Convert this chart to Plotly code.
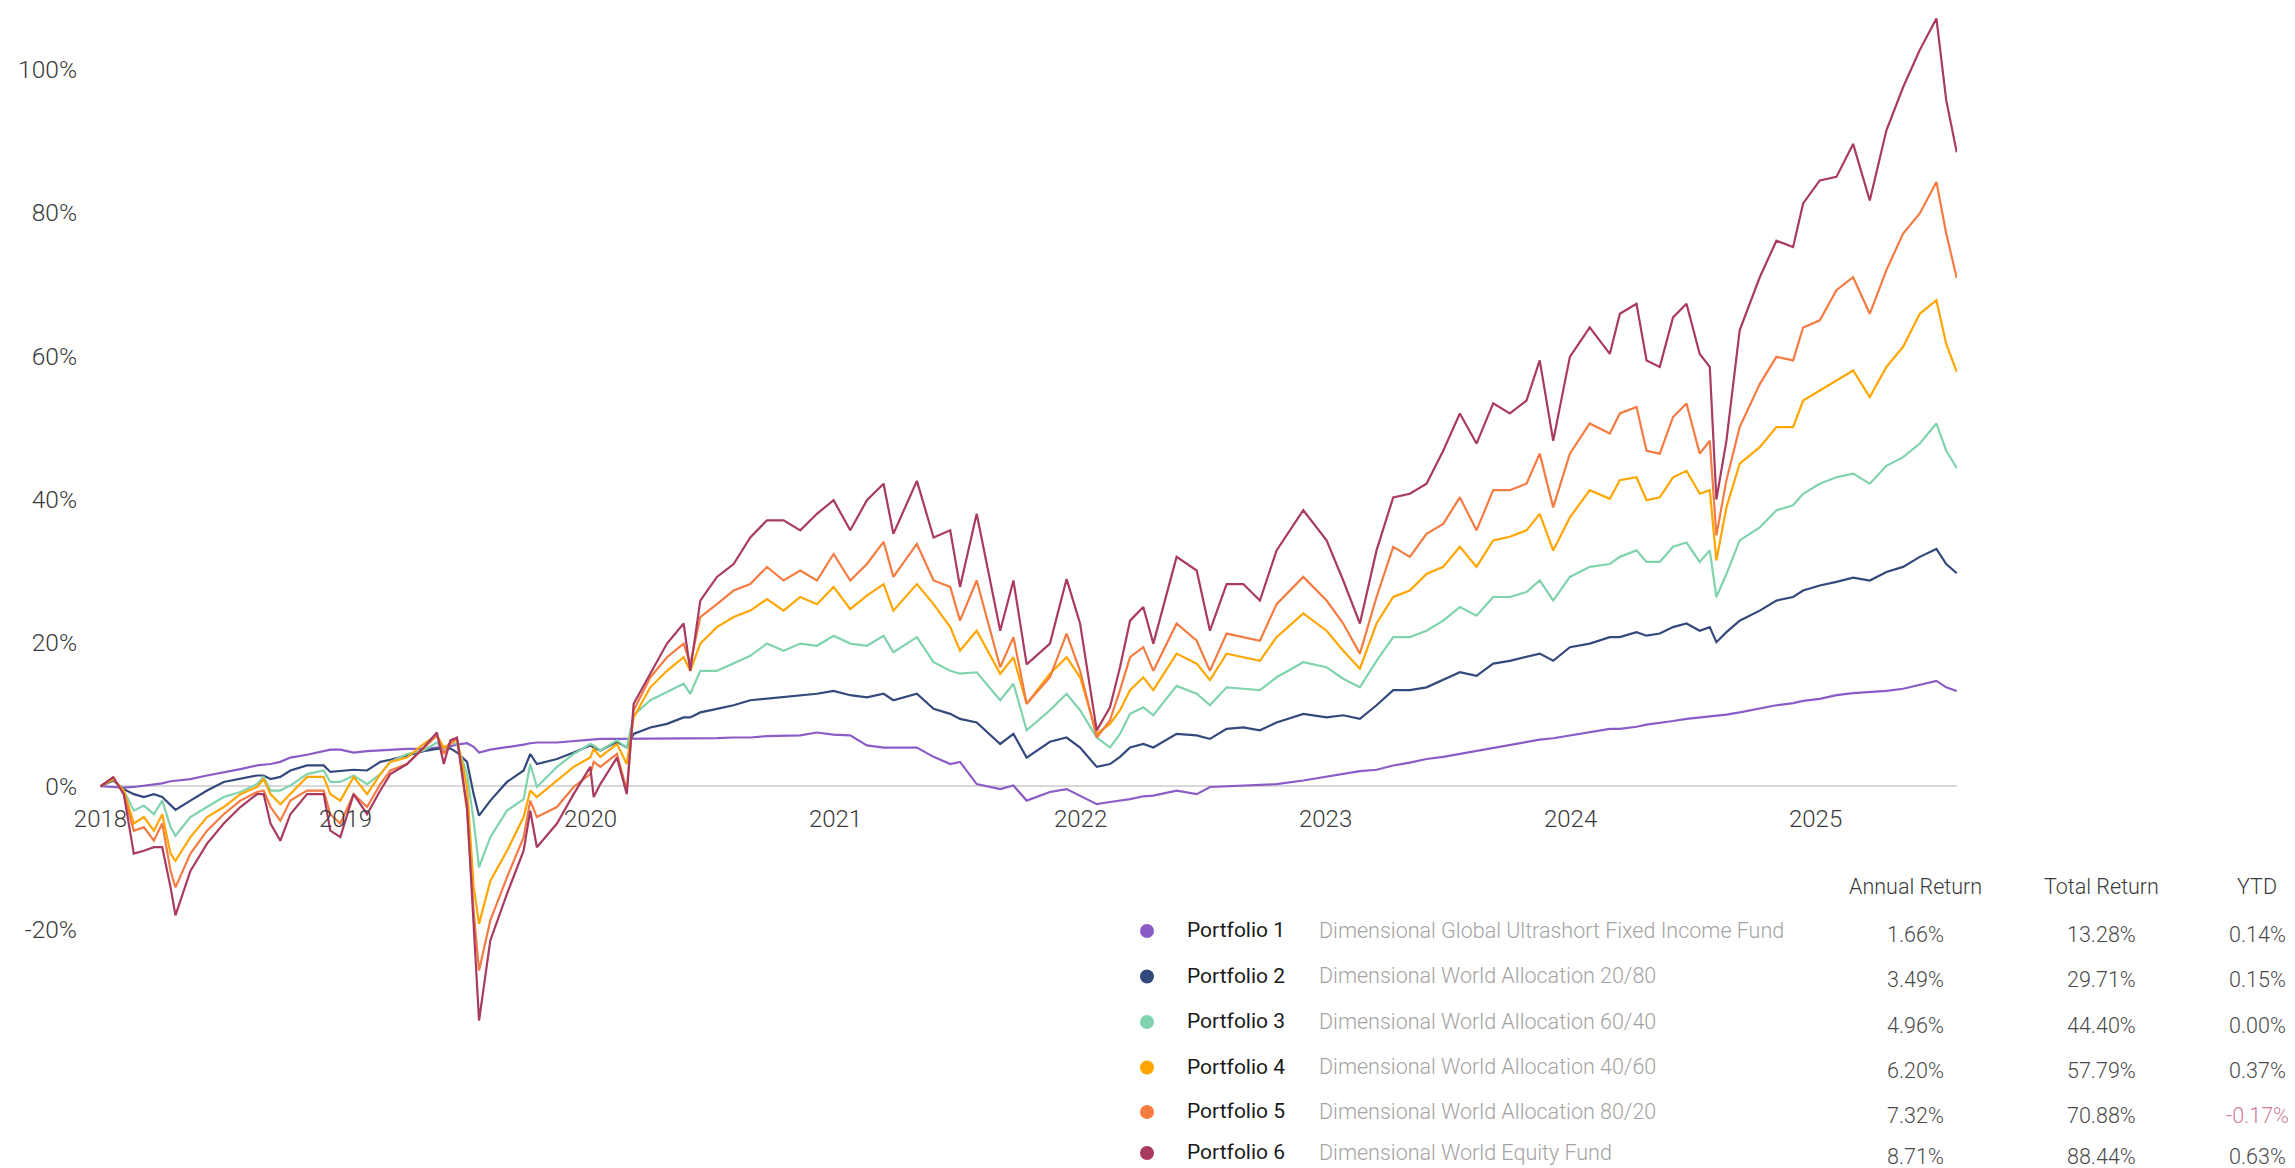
import plotly.graph_objects as go

# ---------------- data (decimal-year positions on the drawn time axis, % cumulative return) ----------------
dates = [
    2018.000, 2018.052, 2018.095, 2018.136, 2018.177, 2018.218, 2018.252, 2018.286, 2018.306, 2018.367,
    2018.435, 2018.503, 2018.571, 2018.639, 2018.666, 2018.694, 2018.734, 2018.775, 2018.843, 2018.911,
    2018.938, 2018.979, 2019.033, 2019.088, 2019.142, 2019.183, 2019.251, 2019.319, 2019.373, 2019.401,
    2019.428, 2019.455, 2019.496, 2019.523, 2019.545, 2019.591, 2019.659, 2019.727, 2019.754, 2019.781,
    2019.863, 2019.931, 2019.999, 2020.013,
    2020.040, 2020.108, 2020.148, 2020.176, 2020.244, 2020.312, 2020.380, 2020.407, 2020.448, 2020.516,
    2020.584, 2020.652, 2020.720, 2020.788, 2020.856, 2020.924, 2020.992, 2021.060, 2021.128, 2021.196,
    2021.236, 2021.332, 2021.400, 2021.468, 2021.508, 2021.576, 2021.672, 2021.726, 2021.780, 2021.875,
    2021.943, 2021.998, 2022.066,
    2022.120, 2022.161, 2022.202, 2022.256, 2022.297, 2022.392, 2022.474, 2022.528, 2022.596, 2022.664,
    2022.732, 2022.800, 2022.909, 2023.004, 2023.072, 2023.140, 2023.208, 2023.276, 2023.344, 2023.412,
    2023.480, 2023.548, 2023.616, 2023.684, 2023.752, 2023.820, 2023.874, 2023.929, 2023.997, 2024.078,
    2024.160,
    2024.201, 2024.269, 2024.310, 2024.364, 2024.418, 2024.473, 2024.527, 2024.568, 2024.595, 2024.636,
    2024.690, 2024.772, 2024.840, 2024.908, 2024.949, 2025.017, 2025.085, 2025.153, 2025.221, 2025.289,
    2025.357, 2025.425, 2025.493, 2025.533, 2025.576,
]

portfolio_1 = [
    0, -0.1, -0.2, -0.1, 0.1, 0.2, 0.4, 0.7, 0.8, 1.0, 1.5, 1.9, 2.4, 2.9, 3.0, 3.1, 3.4, 4.0, 4.4, 4.9,
    5.1, 5.1, 4.7, 4.9, 5.0, 5.1, 5.2, 5.2, 5.4, 5.4, 5.6, 5.8, 6.0, 5.5, 4.7, 5.1, 5.4, 5.8, 6.0, 6.1,
    6.1, 6.3, 6.5, 6.5,
    6.6, 6.6, 6.6, 6.6, 6.7, 6.6, 6.6, 6.6, 6.6, 6.7, 6.8, 6.8, 7.0, 7.1, 7.1, 7.5, 7.2, 7.1, 5.7, 5.4,
    5.4, 5.4, 4.1, 3.1, 3.4, 0.3, -0.4, 0.1, -2.0, -0.8, -0.4, -1.3, -2.5,
    -2.2, -2.0, -1.8, -1.4, -1.3, -0.6, -1.1, -0.1, 0.0, 0.0, 0.2, 0.3, 0.8, 1.3, 1.7, 2.1, 2.3, 2.9, 3.3, 3.8,
    4.1, 4.5, 5.0, 5.4, 5.8, 6.1, 6.5, 6.7, 7.1, 7.5, 8.0,
    8.0, 8.3, 8.6, 8.8, 9.1, 9.4, 9.6, 9.8, 9.8, 10.0, 10.3, 10.9, 11.3, 11.6, 11.9, 12.2, 12.7, 13.0, 13.1, 13.3,
    13.6, 14.1, 14.7, 13.8, 13.28,
]

portfolio_2 = [
    0, 0.8, -0.4, -1.1, -1.5, -1.1, -1.5, -2.7, -3.3, -2.0, -0.6, 0.6, 1.0, 1.5, 1.5, 1.0, 1.3, 2.2, 2.9, 2.9,
    2.0, 2.1, 2.3, 2.2, 3.4, 3.7, 4.3, 4.9, 5.2, 5.2, 5.3, 4.7, 3.4, -1.1, -4.1, -2.0, 0.6, 2.2, 4.5, 3.1,
    3.8, 4.7, 5.7, 5.4,
    5.0, 6.2, 5.4, 7.3, 8.2, 8.7, 9.6, 9.6, 10.3, 10.8, 11.3, 12.0, 12.2, 12.4, 12.7, 12.9, 13.3, 12.7, 12.4, 12.9,
    12.0, 12.9, 10.8, 10.1, 9.4, 8.9, 5.9, 7.3, 4.0, 6.2, 6.8, 5.4, 2.7,
    3.1, 4.1, 5.4, 5.9, 5.4, 7.3, 7.1, 6.6, 8.0, 8.2, 7.8, 8.9, 10.1, 9.6, 9.9, 9.4, 11.3, 13.4, 13.4, 13.8,
    14.8, 15.9, 15.4, 17.1, 17.5, 18.0, 18.5, 17.5, 19.4, 19.9, 20.8,
    20.8, 21.5, 21.0, 21.3, 22.2, 22.7, 21.7, 22.2, 20.1, 21.5, 23.1, 24.5, 25.9, 26.4, 27.3, 28.0, 28.5, 29.1, 28.7, 29.9,
    30.6, 32.0, 33.1, 31.0, 29.71,
]

portfolio_3 = [
    0, 1.0, -0.6, -3.4, -2.7, -3.9, -2.0, -5.7, -6.9, -4.3, -2.9, -1.5, -0.8, 0.3, 1.3, -0.6, -0.6, 0.1, 1.7, 2.2,
    0.6, 0.6, 1.5, 0.3, 1.7, 3.4, 4.5, 5.0, 6.1, 5.0, 6.1, 5.9, 1.7, -4.8, -11.3, -7.1, -3.4, -1.8, 3.1, -0.1,
    2.7, 4.5, 5.9, 5.7,
    5.0, 6.4, 5.4, 9.9, 12.0, 13.1, 14.3, 12.9, 16.1, 16.1, 17.1, 18.2, 19.9, 18.9, 19.9, 19.6, 21.0, 19.9, 19.6, 21.0,
    18.7, 20.8, 17.3, 16.1, 15.7, 15.9, 12.0, 14.3, 7.8, 10.6, 12.9, 10.6, 6.8,
    5.4, 7.3, 10.1, 11.0, 9.9, 14.0, 12.9, 11.3, 13.8, 13.6, 13.4, 15.2, 17.3, 16.6, 15.0, 13.8, 17.5, 20.8, 20.8, 21.7,
    23.1, 25.0, 23.8, 26.4, 26.4, 27.1, 28.7, 25.9, 29.2, 30.6, 31.0,
    32.0, 32.9, 31.3, 31.3, 33.4, 34.0, 31.3, 32.9, 26.4, 29.6, 34.3, 36.1, 38.5, 39.2, 40.8, 42.2, 43.1, 43.6, 42.2, 44.7,
    45.9, 47.8, 50.6, 46.8, 44.40,
]

portfolio_4 = [
    0, 1.0, -0.6, -5.2, -4.3, -6.2, -3.9, -9.4, -10.4, -7.1, -4.3, -2.9, -1.1, -0.1, 1.0, -1.1, -2.5, -1.1, 1.3, 1.3,
    -1.1, -2.0, 1.3, -1.1, 1.7, 3.4, 4.0, 5.9, 7.1, 5.4, 5.9, 6.6, -0.1, -14.0, -19.2, -13.2, -9.0, -4.3, -0.6, -1.5,
    0.8, 2.7, 4.0, 5.2,
    4.1, 5.9, 3.1, 9.6, 13.8, 16.1, 18.0, 16.1, 19.9, 22.2, 23.6, 24.5, 26.1, 24.5, 26.4, 25.4, 27.8, 24.7, 26.6, 28.2,
    24.5, 28.2, 25.4, 22.2, 18.9, 21.7, 15.7, 18.0, 11.5, 15.7, 18.0, 15.2, 7.3,
    8.7, 10.6, 13.4, 15.2, 13.4, 18.5, 17.1, 14.8, 18.5, 18.0, 17.5, 20.8, 24.1, 21.7, 18.9, 16.4, 22.7, 26.4, 27.3, 29.6,
    30.6, 33.4, 30.6, 34.3, 34.8, 35.7, 38.0, 32.9, 37.5, 41.3, 40.1,
    42.7, 43.1, 39.9, 40.3, 43.1, 44.0, 40.8, 41.3, 31.5, 38.9, 45.0, 47.3, 50.1, 50.1, 53.8, 55.2, 56.6, 58.0, 54.3, 58.5,
    61.3, 65.9, 67.8, 61.7, 57.79,
]

portfolio_5 = [
    0, 1.26, -1.1, -6.2, -5.7, -7.6, -5.2, -11.8, -14.1, -9.4, -6.2, -3.9, -2.0, -0.8, -0.6, -2.9, -4.8, -2.0, -0.6, -0.6,
    -3.9, -5.2, -1.1, -2.9, 0.3, 2.2, 3.1, 5.4, 7.1, 4.5, 6.1, 6.6, -3.4, -17.5, -25.7, -18.7, -12.7, -7.1, -2.0, -4.3,
    -2.9, -0.1, 1.7, 3.4,
    2.7, 4.5, -0.6, 10.6, 15.2, 18.0, 19.9, 17.1, 23.6, 25.4, 27.3, 28.2, 30.6, 28.7, 30.1, 28.7, 32.4, 28.7, 31.0, 34.1,
    29.2, 33.8, 28.7, 27.8, 23.1, 28.7, 16.6, 20.8, 11.5, 15.2, 21.3, 16.1, 6.8,
    9.2, 13.4, 18.0, 19.4, 16.1, 22.7, 20.3, 16.1, 21.3, 20.8, 20.3, 25.4, 29.2, 25.9, 22.7, 18.5, 26.4, 33.4, 32.0, 35.2,
    36.6, 40.3, 35.7, 41.3, 41.3, 42.2, 46.4, 38.9, 46.4, 50.6, 49.2,
    52.0, 52.9, 46.8, 46.4, 51.5, 53.4, 46.4, 48.2, 35.0, 42.7, 50.1, 56.1, 59.9, 59.4, 64.0, 65.0, 69.2, 71.0, 65.9, 72.0,
    77.1, 79.9, 84.3, 77.1, 70.88,
]

portfolio_6 = [
    0, 1.26, -1.1, -9.4, -9.0, -8.5, -8.5, -14.1, -18.0, -11.8, -8.0, -5.2, -2.9, -1.1, -1.1, -5.2, -7.6, -3.9, -1.1, -1.1,
    -6.2, -7.1, -1.1, -3.9, -0.6, 1.7, 3.1, 5.4, 7.5, 3.1, 6.4, 6.8, -2.9, -19.7, -32.7, -21.5, -15.0, -9.0, -3.4, -8.5,
    -5.2, -1.1, 2.7, -1.5,
    0.3, 4.0, -1.1, 11.5, 15.7, 19.9, 22.7, 16.1, 25.9, 29.2, 31.0, 34.7, 37.1, 37.1, 35.7, 38.0, 39.9, 35.7, 39.9, 42.2,
    35.2, 42.6, 34.7, 35.7, 27.8, 38.0, 21.7, 28.7, 17.0, 19.9, 28.9, 22.7, 7.8,
    11.0, 16.6, 23.1, 25.0, 19.9, 32.0, 30.1, 21.7, 28.2, 28.2, 25.9, 32.9, 38.5, 34.3, 28.7, 22.7, 32.9, 40.3, 40.8, 42.2,
    46.8, 52.0, 47.8, 53.4, 52.0, 53.8, 59.4, 48.2, 59.9, 64.0, 60.3,
    65.9, 67.3, 59.4, 58.5, 65.4, 67.3, 60.3, 58.5, 40.0, 48.2, 63.6, 71.0, 76.1, 75.2, 81.3, 84.5, 85.0, 89.6, 81.7, 91.5,
    97.5, 102.7, 107.1, 95.7, 88.44,
]

portfolio_names = ["Portfolio 1", "Portfolio 2", "Portfolio 3", "Portfolio 4", "Portfolio 5", "Portfolio 6"]
fund_names = [
    "Dimensional Global Ultrashort Fixed Income Fund",
    "Dimensional World Allocation 20/80",
    "Dimensional World Allocation 60/40",
    "Dimensional World Allocation 40/60",
    "Dimensional World Allocation 80/20",
    "Dimensional World Equity Fund",
]
annual_return = ["1.66%", "3.49%", "4.96%", "6.20%", "7.32%", "8.71%"]
total_return = ["13.28%", "29.71%", "44.40%", "57.79%", "70.88%", "88.44%"]
ytd_return = ["0.14%", "0.15%", "0.00%", "0.37%", "-0.17%", "0.63%"]

year_ticks = [2018, 2019, 2020, 2021, 2022, 2023, 2024, 2025]
year_labels = ["2018", "2019", "2020", "2021", "2022", "2023", "2024", "2025"]
pct_ticks = [-20, 0, 20, 40, 60, 80, 100]
pct_labels = ["-20%", "0%", "20%", "40%", "60%", "80%", "100%"]

# ---------------- styles ----------------
colors = ["#8a5cc5", "#34497b", "#80d3ad", "#ffa602", "#f47b42", "#a93a60"]
series = [portfolio_1, portfolio_2, portfolio_3, portfolio_4, portfolio_5, portfolio_6]

W, H = 2295, 1168
L, R, T, B = 100, 338, 12, 138
PW, PH = W - L - R, H - T - B


def px(x):
    return (x - L) / PW


def py(y):
    return (H - B - y) / PH


FONT = "Roboto, 'Open Sans', sans-serif"

fig = go.Figure()
for vals, name, col in zip(series, portfolio_names, colors):
    fig.add_trace(go.Scatter(
        x=dates, y=vals, mode="lines", name=name, showlegend=False,
        line=dict(color=col, width=2.2),
        hovertemplate=name + ": %{y:.2f}%<extra></extra>",
    ))

annotations = []
shapes = []

header_y = 886
for text, cx in zip(["Annual Return", "Total Return", "YTD"], [1915, 2101, 2257]):
    annotations.append(dict(
        x=px(cx), y=py(header_y), xref="paper", yref="paper", text=text, showarrow=False,
        xanchor="center", yanchor="middle",
        font=dict(family=FONT, size=21.5, color="#3a3a3a", weight=300),
    ))

row_ys = [931, 976.5, 1022, 1067.5, 1112, 1153]
for i, ry in enumerate(row_ys):
    shapes.append(dict(
        type="circle", xref="paper", yref="paper", xsizemode="pixel", ysizemode="pixel",
        xanchor=px(1147), yanchor=py(ry), x0=-7, x1=7, y0=-7, y1=7,
        fillcolor=colors[i], line=dict(width=0),
    ))
    annotations.append(dict(
        x=px(1185), y=py(ry - 1), xref="paper", yref="paper", text=portfolio_names[i], showarrow=False,
        xanchor="left", yanchor="middle", font=dict(family=FONT, size=21, color="#1a1a1a", weight=400),
    ))
    annotations.append(dict(
        x=px(1317), y=py(ry - 1), xref="paper", yref="paper", text=fund_names[i], showarrow=False,
        xanchor="left", yanchor="middle", font=dict(family=FONT, size=21.5, color="#a3a3a3", weight=300),
    ))
    for vals, cx in zip([annual_return, total_return, ytd_return], [1915, 2101, 2257]):
        v = vals[i]
        col = "#d07a9c" if v.startswith("-") else "#4a4a4a"
        annotations.append(dict(
            x=px(cx), y=py(ry + 3), xref="paper", yref="paper", text=v, showarrow=False,
            xanchor="center", yanchor="middle", font=dict(family=FONT, size=21.5, color=col, weight=300),
        ))

fig.update_layout(
    width=W, height=H,
    margin=dict(l=L, r=R, t=T, b=B, pad=0),
    paper_bgcolor="white", plot_bgcolor="white",
    showlegend=False,
    xaxis=dict(
        range=[2017.998, 2025.577], tickmode="array", tickvals=year_ticks, ticktext=year_labels,
        showgrid=False, zeroline=False, showline=False, ticks="",
        anchor="free", position=py(786), automargin=False, ticklabelstandoff=16,
        tickfont=dict(family=FONT, size=24, color="#3a3a3a", weight=300),
    ),
    yaxis=dict(
        range=[-34, 108], tickmode="array", tickvals=pct_ticks, ticktext=pct_labels,
        showgrid=False, showline=False, ticks="", automargin=False,
        zeroline=True, zerolinecolor="#d8d8d8", zerolinewidth=2,
        ticklabelstandoff=22,
        tickfont=dict(family=FONT, size=24.5, color="#3a3a3a", weight=300),
    ),
    annotations=annotations,
    shapes=shapes,
)

fig.write_html(
    "out.html",
    config={"displayModeBar": False},
    post_script="document.body.style.margin='0';document.body.style.overflow='hidden';",
)
